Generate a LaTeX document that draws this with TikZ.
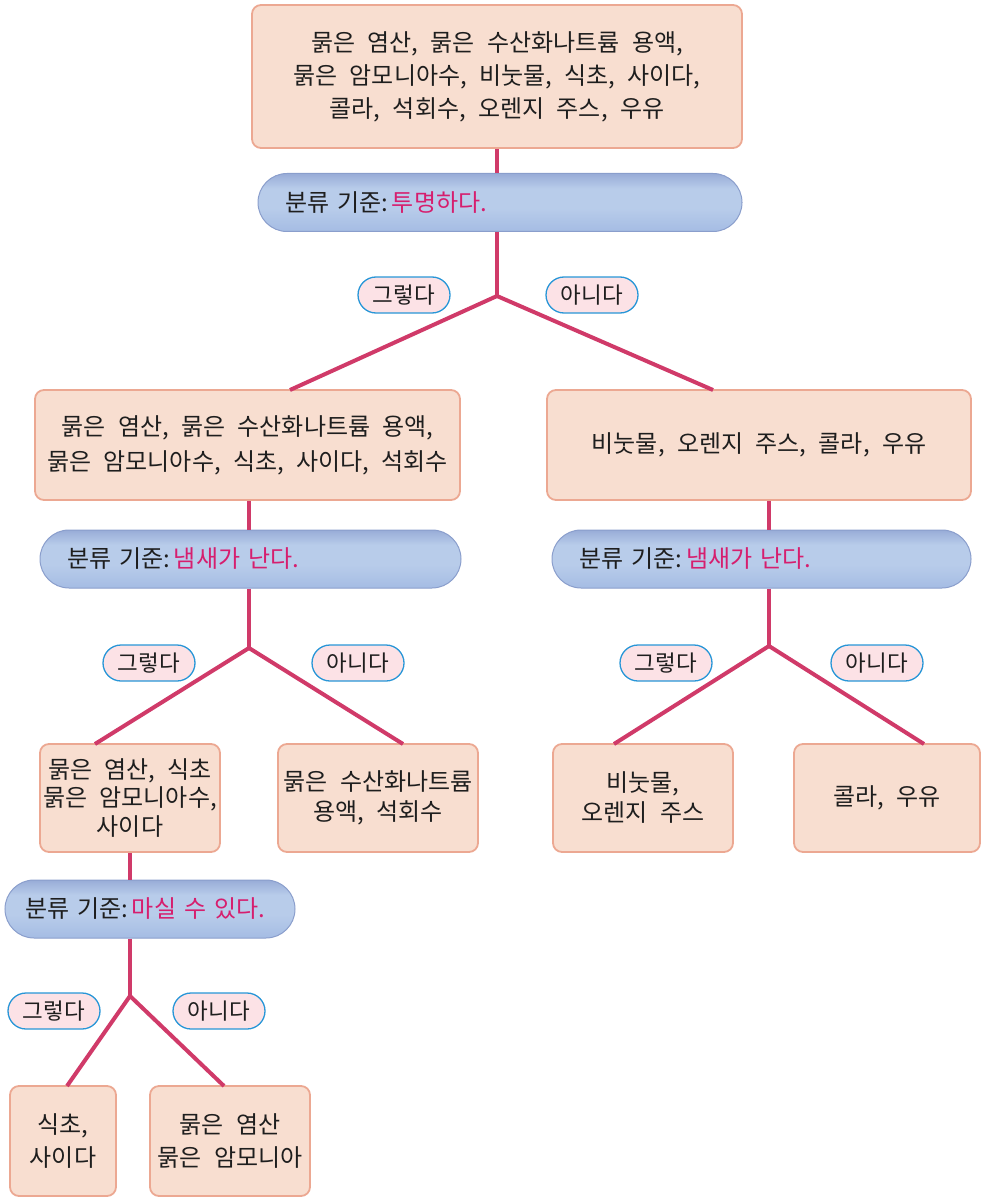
\documentclass[tikz,border=0pt]{standalone}
\usepackage{fontspec}
\setmainfont[WordSpace=2.3]{Noto Sans CJK KR}
\definecolor{linec}{RGB}{208,58,105}
\definecolor{pinktxt}{RGB}{214,30,110}
\definecolor{bubfill}{RGB}{252,226,230}
\definecolor{bubdraw}{RGB}{40,150,215}
\definecolor{boxfill}{RGB}{248,222,208}
\definecolor{boxdraw}{RGB}{236,168,146}
\definecolor{pilltop}{RGB}{140,160,208}
\definecolor{pillmid}{RGB}{184,204,234}
\definecolor{pillbot}{RGB}{160,184,226}
\definecolor{pilldraw}{RGB}{138,158,204}
\definecolor{txt}{RGB}{30,30,30}
\pgfdeclareverticalshading{pillshade}{100bp}{color(0bp)=(pillbot); color(20bp)=(pillbot); color(45bp)=(pillmid); color(62bp)=(pillmid); color(80bp)=(pilltop); color(100bp)=(pilltop)}
\tikzset{
  itembox/.style={rectangle, rounded corners=9pt, fill=boxfill, draw=boxdraw, line width=1.8pt, align=center, text=txt, inner sep=0pt, font=\fontsize{24pt}{33pt}\selectfont},
  pill/.style={rectangle, rounded corners=29pt, shading=pillshade, draw=pilldraw, line width=1pt, minimum height=58pt, align=left, inner xsep=27pt, inner ysep=0pt, text=txt, font=\fontsize{24pt}{30pt}\selectfont},
  bubble/.style={rectangle, rounded corners=18pt, fill=bubfill, draw=bubdraw, line width=1.3pt, minimum width=92pt, minimum height=36pt, inner sep=0pt, text=txt, font=\fontsize{22.5pt}{24pt}\selectfont},
  branch/.style={draw=linec, line width=4pt}
}
\newcommand{\crit}[1]{분류 기준:\hspace{4pt}\textcolor{pinktxt}{#1}}
\begin{document}
\begin{tikzpicture}[x=1pt,y=-1pt]
\useasboundingbox (0,0) rectangle (981,1198);
% level 0
\node[itembox, minimum width=490pt, minimum height=143pt] (top) at (497,76.5)
  {묽은 염산, 묽은 수산화나트륨 용액,\\묽은 암모니아수, 비눗물, 식초, 사이다,\\콜라, 석회수, 오렌지 주스, 우유};
\node[pill, minimum width=484pt, text width=430pt] (p1) at (500,202.5) {\crit{투명하다.}};
\coordinate (j1) at (497,296);
\node[itembox, minimum width=425pt, minimum height=110pt, font=\fontsize{24pt}{35pt}\selectfont] (L) at (247.5,445)
  {묽은 염산, 묽은 수산화나트륨 용액,\\묽은 암모니아수, 식초, 사이다, 석회수};
\node[itembox, minimum width=424pt, minimum height=110pt] (R) at (759,445)
  {비눗물, 오렌지 주스, 콜라, 우유};
\coordinate (Lt) at (290,390);
\coordinate (Rt) at (713,390);
\node[bubble] (y1) at (404,295) {그렇다};
\node[bubble] (n1) at (592,295) {아니다};
% level 1 left
\node[pill, minimum width=421pt, text width=367pt] (p2) at (250.5,559) {\crit{냄새가 난다.}};
\coordinate (j2) at (249,648);
\node[itembox, minimum width=180pt, minimum height=108pt, font=\fontsize{24pt}{28.5pt}\selectfont] (LL) at (130,798)
  {묽은 염산, 식초\\묽은 암모니아수,\\사이다};
\node[itembox, minimum width=200pt, minimum height=108pt, font=\fontsize{24pt}{30pt}\selectfont] (LR) at (378,798)
  {묽은 수산화나트륨\\용액, 석회수};
\coordinate (LLt) at (95,744);
\coordinate (LRt) at (403,744);
\node[bubble] (y2) at (149,663) {그렇다};
\node[bubble] (n2) at (358,663) {아니다};
% level 1 right
\node[pill, minimum width=419pt, text width=365pt] (p3) at (761.5,559) {\crit{냄새가 난다.}};
\coordinate (j3) at (769,646);
\node[itembox, minimum width=180pt, minimum height=108pt, font=\fontsize{24pt}{30pt}\selectfont] (RL) at (643,798)
  {비눗물,\\오렌지 주스};
\node[itembox, minimum width=186pt, minimum height=108pt] (RR) at (887,798)
  {콜라, 우유};
\coordinate (RLt) at (614,744);
\coordinate (RRt) at (924,744);
\node[bubble] (y3) at (666,663) {그렇다};
\node[bubble] (n3) at (877,663) {아니다};
% level 2
\node[pill, minimum width=290pt, inner xsep=20pt, text width=250pt] (p4) at (150,909) {\crit{마실 수 있다.}};
\coordinate (j4) at (130,996);
\node[itembox, minimum width=106pt, minimum height=110pt, font=\fontsize{24pt}{33pt}\selectfont] (B1) at (63,1141)
  {식초,\\사이다};
\node[itembox, minimum width=160pt, minimum height=110pt, font=\fontsize{24pt}{33pt}\selectfont] (B2) at (230,1141)
  {묽은 염산\\묽은 암모니아};
\coordinate (B1t) at (67,1086);
\coordinate (B2t) at (224,1086);
\node[bubble] (y4) at (54,1011) {그렇다};
\node[bubble] (n4) at (219,1011) {아니다};
% connectors
\draw[branch] (top.south -| j1) -- (p1.north -| j1);
\draw[branch] (p1.south -| j1) -- (j1);
\draw[branch] (j1) -- (Lt);
\draw[branch] (j1) -- (Rt);
\draw[branch] (L.south -| j2) -- (p2.north -| j2);
\draw[branch] (p2.south -| j2) -- (j2);
\draw[branch] (j2) -- (LLt);
\draw[branch] (j2) -- (LRt);
\draw[branch] (R.south -| j3) -- (p3.north -| j3);
\draw[branch] (p3.south -| j3) -- (j3);
\draw[branch] (j3) -- (RLt);
\draw[branch] (j3) -- (RRt);
\draw[branch] (LL.south -| j4) -- (p4.north -| j4);
\draw[branch] (p4.south -| j4) -- (j4);
\draw[branch] (j4) -- (B1t);
\draw[branch] (j4) -- (B2t);
\end{tikzpicture}
\end{document}
